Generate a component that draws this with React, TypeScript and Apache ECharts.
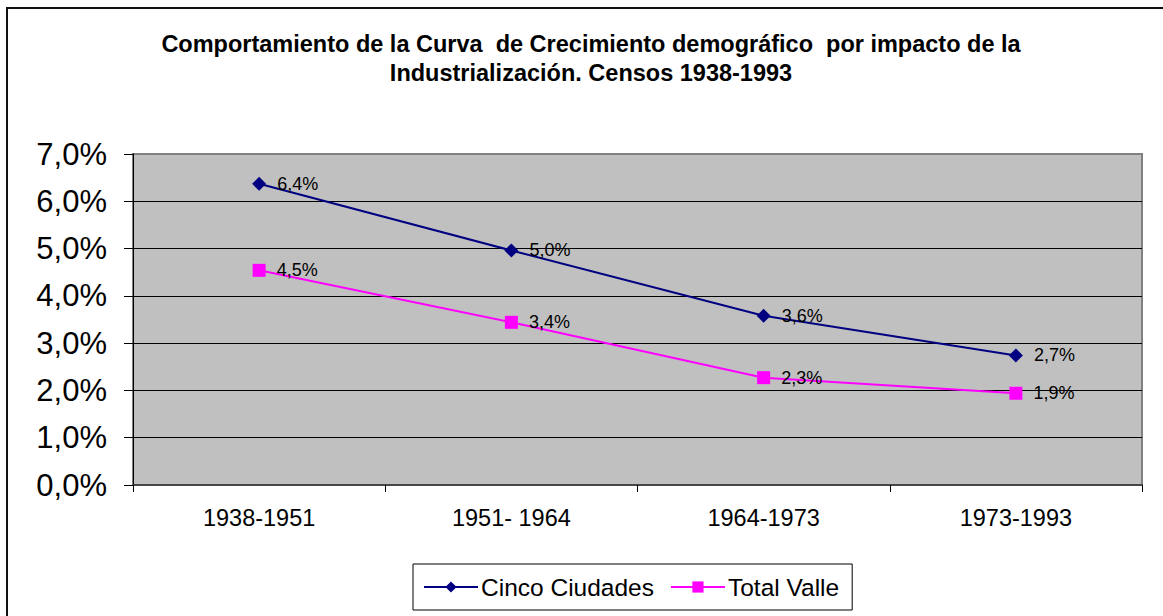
import React, { useEffect, useRef } from "react";
import * as echarts from "echarts";

const categories = ["1938-1951", "1951- 1964", "1964-1973", "1973-1993"];
const cincoCiudades = [6.37, 4.96, 3.58, 2.74];
const totalValle = [4.54, 3.44, 2.27, 1.94];
const seriesNames = ["Cinco Ciudades", "Total Valle"];
const titleText =
  "Comportamiento de la Curva  de Crecimiento demográfico  por impacto de la\nIndustrialización. Censos 1938-1993";

const pct = (v: number) => v.toFixed(1).replace(".", ",") + "%";

export default function App() {
  const ref = useRef<HTMLDivElement>(null);
  useEffect(() => {
    if (!ref.current) return;
    const chart = echarts.init(ref.current, undefined, { renderer: "svg" });
    const font = "Liberation Sans, Arial, sans-serif";
    chart.setOption({
      animation: false,
      backgroundColor: "#fff",
      textStyle: { fontFamily: font },
      title: {
        text: titleText,
        left: 591,
        textAlign: "center",
        top: 29,
        padding: 0,
        textStyle: {
          fontFamily: font,
          fontSize: 23.5,
          fontWeight: "bold",
          lineHeight: 29,
          color: "#000",
        },
      },
      graphic: [
        {
          type: "rect",
          shape: { x: 7, y: 8, width: 1300, height: 800 },
          style: { fill: "none", stroke: "#111", lineWidth: 2 },
          silent: true,
          z: 100,
        },
      ],
      legend: {
        left: 413,
        top: 564,
        orient: "horizontal",
        padding: [10, 13, 10, 10],
        borderColor: "#000",
        borderWidth: 1,
        itemWidth: 54,
        itemHeight: 14,
        itemGap: 16,
        textStyle: { fontFamily: font, fontSize: 24.5, color: "#000", lineHeight: 26, padding: [0, 0, 0, -2] },
        data: seriesNames,
      },
      grid: {
        left: 133,
        top: 154,
        right: 21,
        bottom: 131,
        show: true,
        backgroundColor: "#C0C0C0",
        borderColor: "#808080",
        borderWidth: 2,
      },
      xAxis: {
        type: "category",
        data: categories,
        boundaryGap: true,
        axisLine: { show: true, lineStyle: { color: "#333", width: 1.5 } },
        axisTick: { show: true, length: 7, lineStyle: { color: "#000" } },
        axisLabel: { fontFamily: font, fontSize: 23.5, color: "#000", margin: 21 },
        splitLine: { show: false },
      },
      yAxis: {
        type: "value",
        min: 0,
        max: 7,
        interval: 1,
        axisLine: { show: true, lineStyle: { color: "#000", width: 1 } },
        axisTick: { show: true, length: 9, lineStyle: { color: "#000" } },
        axisLabel: {
          fontFamily: font,
          fontSize: 31,
          color: "#000",
          margin: 26,
          formatter: (v: number) => pct(v),
        },
        splitLine: {
          show: true,
          showMaxLine: false,
          showMinLine: false,
          lineStyle: { color: "#000", width: 1 },
        },
      },
      series: [
        {
          name: seriesNames[0],
          type: "line",
          data: cincoCiudades,
          symbol: "diamond",
          symbolSize: 14,
          lineStyle: { color: "#000080", width: 2 },
          itemStyle: { color: "#000080" },
          label: {
            show: true,
            position: "right",
            distance: 11,
            fontFamily: font,
            fontSize: 18,
            color: "#000",
            formatter: (p: any) => pct(p.value),
          },
          z: 3,
        },
        {
          name: seriesNames[1],
          type: "line",
          data: totalValle,
          symbol: "rect",
          symbolSize: 13,
          lineStyle: { color: "#FF00FF", width: 2 },
          itemStyle: { color: "#FF00FF" },
          label: {
            show: true,
            position: "right",
            distance: 11,
            fontFamily: font,
            fontSize: 18,
            color: "#000",
            formatter: (p: any) => pct(p.value),
          },
          z: 2,
        },
      ],
    });
    return () => chart.dispose();
  }, []);
  return (
    <div
      ref={ref}
      style={{ position: "fixed", left: 0, top: 0, width: 1163, height: 616 }}
    />
  );
}
